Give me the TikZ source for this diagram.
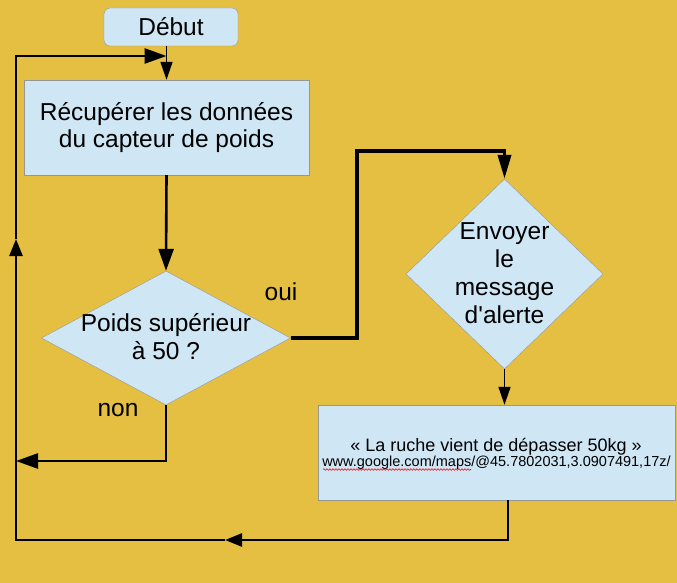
\documentclass[tikz,border=0pt]{standalone}
\usepackage{fontspec}
\setmainfont{Liberation Sans}
\usetikzlibrary{positioning}
\usetikzlibrary{shapes.geometric}
\usetikzlibrary{arrows.meta}
\usetikzlibrary{decorations.pathmorphing}
\definecolor{fond}{RGB}{229,191,65}
\definecolor{bleu}{RGB}{207,230,245}
\definecolor{bord}{RGB}{150,150,150}

\begin{document}
\begin{tikzpicture}[x=1pt, y=-1pt,
    start/.style={rectangle, rounded corners=6, draw=bord, fill=bleu, minimum width=134, minimum height=38, font=\fontsize{24.5}{28}\selectfont},
    process/.style={rectangle, draw=bord, fill=bleu, minimum width=285, minimum height=95, align=center, font=\fontsize{24.5}{27}\selectfont},
    decision/.style={diamond, draw=bord, fill=bleu, inner sep=0},
    txt/.style={align=center, font=\fontsize{24.5}{28}\selectfont},
    link/.style={line width=2.6, -{Triangle[length=22pt, width=15pt]}},
    midlink/.style={line width=2.6, -{Triangle[length=17pt, width=13pt]}},
    thinlink/.style={line width=1.4, -{Triangle[length=18pt, width=12pt]}},
    thicklink/.style={line width=3.6, -{Triangle[length=24pt, width=13pt]}}]
    \fill[fond] (0,0) rectangle (677,583);
    \useasboundingbox (0,0) rectangle (677,583);

    \node[start](debut) at (171,27) {Début};
    \node[process](recup) at (166.5,127.5) {Récupérer les données\\du capteur de poids};
    \node[decision, minimum width=249, minimum height=134](test) at (166,338) {};
    \node[txt](testtxt) at (166,337) {Poids supérieur\\à 50 ?};
    \node[decision, minimum width=197, minimum height=190](envoi) at (504.5,274) {};
    \node[txt](envoitxt) at (504.5,273) {Envoyer\\le\\message\\d\textquotesingle alerte};
    \node[process, minimum width=357](message) at (496.5,452.5) {};
    \node[anchor=base, font=\fontsize{18}{18}\selectfont](ligne1) at (496,451) {« La ruche vient de dépasser 50kg »};
    \node[anchor=base, font=\fontsize{14.5}{15}\selectfont](ligne2) at (496.5,466) {www.google.com/maps/@45.7802031,3.0907491,17z/};
    \draw[red, line width=0.6, decorate, decoration={snake, amplitude=0.8, segment length=3}] (323,469.5) -- (471,469.5);

    \node[anchor=base, font=\fontsize{24.5}{28}\selectfont](oui) at (281,300) {oui};
    \node[anchor=base, font=\fontsize{24.5}{28}\selectfont](non) at (118,416) {non};

    \coordinate (entree) at (166.5,56);
    \coordinate (coude) at (357,151);
    \coordinate (gauche) at (16,461);
    \coordinate (bas) at (508,540);
    \coordinate (milieu) at (225,540);
    \coordinate (montee) at (16,239);

    \draw[thinlink] (debut.south -| recup.north) to (recup.north);
    \draw[link] (recup.south) to (test.north);
    \draw[thicklink] (test.east) -| (coude) -| (envoi.north);
    \draw[thinlink] (envoi.south) to (envoi.south |- message.north);
    \draw[link] (test.south) |- (gauche);
    \draw[midlink] (message.south -| bas) |- (milieu);
    \draw[midlink] (milieu) -| (montee);
    \draw[link] (montee) |- (entree);
\end{tikzpicture}
\end{document}
